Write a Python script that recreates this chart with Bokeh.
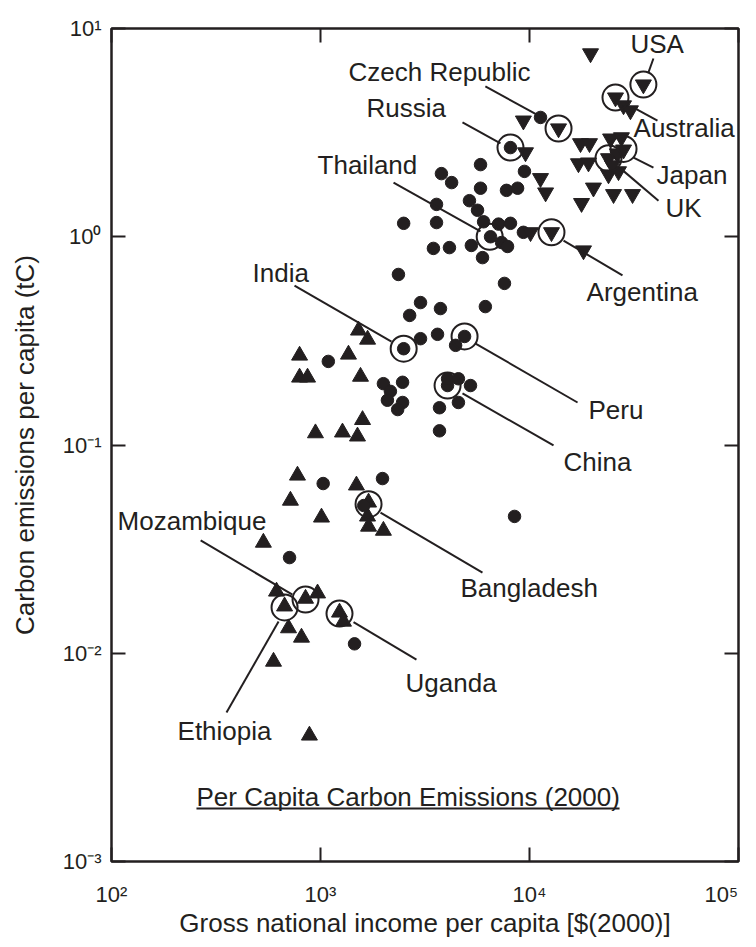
from bokeh.plotting import figure
from bokeh.models import FixedTicker, LogAxis, ColumnDataSource, CustomJSTickFormatter
from bokeh.core.properties import value
from bokeh.embed import file_html
from bokeh.resources import INLINE

# ---------------- data ----------------
# low income countries (triangles)
low_gni = [1520, 1680, 794, 1361, 794, 867, 1554, 1589, 946, 1274, 1503, 776, 1486, 718,
           1698, 1011, 1679, 1698, 2000, 533, 616, 673, 848, 968, 1233, 1288, 703, 811, 596, 885]
low_co2 = [0.355, 0.321, 0.269, 0.272, 0.211, 0.211, 0.213, 0.132, 0.114, 0.115, 0.110, 0.0714,
           0.0640, 0.0541, 0.0530, 0.0449, 0.0454, 0.0406, 0.0388, 0.0340, 0.0198, 0.0168,
           0.0183, 0.0194, 0.0157, 0.0142, 0.0132, 0.0119, 0.00912, 0.00403]

# middle income countries (dots)
mid_gni = [3790, 4240, 5830, 5830, 5160, 3590, 5640, 2500, 3590, 6030, 7110, 8110, 7760, 8770,
           9460, 11290, 8110, 6510, 7350, 7850, 3470, 4140, 5270, 5960, 7590, 9350, 2360, 3010,
           2670, 3750, 6150, 3010, 3630, 2500, 4890, 4430, 1090, 2000, 2470, 2160, 2090, 2470,
           2340, 4055, 4055, 4570, 5220, 4570, 3710, 3710, 8480, 1030, 1980, 1610, 711, 1455]
mid_co2 = [2.01, 1.82, 2.22, 1.71, 1.49, 1.43, 1.34, 1.16, 1.17, 1.18, 1.15, 1.16, 1.67, 1.71,
           2.06, 3.74, 2.68, 1.00, 0.938, 0.898, 0.879, 0.887, 0.908, 0.794, 0.597, 1.05, 0.659,
           0.483, 0.419, 0.452, 0.462, 0.324, 0.340, 0.290, 0.332, 0.301, 0.252, 0.197, 0.200,
           0.181, 0.164, 0.160, 0.148, 0.193, 0.208, 0.208, 0.193, 0.160, 0.151, 0.117, 0.0454,
           0.0653, 0.0690, 0.0512, 0.0288, 0.0111]

# high income countries (inverted triangles)
high_gni = [19590, 35070, 25790, 28180, 30410, 9350, 13770, 9570, 11290, 11940, 17540, 19370,
            24430, 27540, 17150, 19150, 23880, 26360, 28180, 23880, 26660, 20230, 25240, 31120,
            17740, 10115, 12740, 18130, 24950]
high_co2 = [7.59, 5.38, 4.66, 4.27, 4.04, 3.61, 3.31, 2.54, 1.91, 1.63, 2.81, 2.81, 2.96, 3.00,
            2.25, 2.27, 2.38, 2.51, 2.62, 1.99, 2.06, 1.72, 1.60, 1.60, 1.45, 1.05, 1.05, 0.859, 2.20]

# highlighted countries
hl_country = ["USA", "Australia", "Czech Republic", "Russia", "Japan", "UK", "Thailand",
              "Argentina", "India", "Peru", "China", "Bangladesh", "Ethiopia", "Mozambique", "Uganda"]
hl_gni = [35070, 25790, 13770, 8110, 28180, 23880, 6450, 12740, 2500, 4890, 4055, 1698, 673, 848, 1233]
hl_co2 = [5.38, 4.66, 3.31, 2.68, 2.64, 2.38, 1.00, 1.05, 0.290, 0.332, 0.193, 0.0520, 0.0166, 0.0181, 0.0155]

# label anchors (left edge, vertical middle) and leader lines
label_x = [30410, 31470, 1361, 1660, 40550, 44770, 968, 18750, 473, 19150, 14550, 4677, 207, 106.9, 2553]
label_y = [8.38, 3.31, 6.15, 4.13, 1.99, 1.38, 2.20, 0.540, 0.673, 0.148, 0.0833, 0.0205, 0.00421, 0.0430, 0.00716]
lead_x0 = [39170, 40950, 6150, 4780, 39170, 41410, 2236, 27860, 751, 16980, 13030, 5957, 355, 267, 2878]
lead_y0 = [7.18, 3.61, 5.27, 3.54, 2.15, 1.49, 1.82, 0.652, 0.583, 0.160, 0.0995, 0.0244, 0.00519, 0.0348, 0.00933]
lead_x1 = [37070, 31470, 11940, 7265, 31470, 27230, 5830, 14550, 2186, 5520, 4780, 1937, 630, 734, 1439]
lead_y1 = [6.15, 4.17, 3.66, 2.81, 2.40, 2.13, 1.06, 0.959, 0.314, 0.307, 0.177, 0.0474, 0.0142, 0.0191, 0.0141]

chart_title = "Per Capita Carbon Emissions (2000)"
title_x0 = 255
title_x1 = 26970
title_y = 0.00205
underline_y = 0.001797

x_ticks = [1e2, 1e3, 1e4, 1e5]
y_ticks = [1e-3, 1e-2, 1e-1, 1e0, 1e1]
x_title = "Gross national income per capita [$(2000)]"
y_title = "Carbon emissions per capita (tC)"

# ---------------- figure ----------------
ink = "#231f20"
font = "Liberation Sans"

p = figure(width=756, height=940, x_axis_type="log", y_axis_type="log",
           x_range=(1e2, 1e5), y_range=(1e-3, 1e1),
           output_backend="svg", toolbar_location=None,
           min_border_left=111, min_border_right=18, min_border_top=28, min_border_bottom=79,
           background_fill_color="white", border_fill_color="white")
p.grid.visible = False
p.outline_line_color = ink
p.outline_line_width = 2.5

sup_code = r"""
const sup = {"-": "\u207b", "0": "\u2070", "1": "\u00b9", "2": "\u00b2", "3": "\u00b3",
             "4": "\u2074", "5": "\u2075", "6": "\u2076", "7": "\u2077", "8": "\u2078", "9": "\u2079"};
const e = Math.round(Math.log10(tick));
let s = "10" + String(e).split("").map(c => sup[c]).join("");
if (tick >= pad_at) { s = s + "\u00a0\u00a0\u00a0"; }
return s;
"""


def style_axis(ax, show_labels):
    ax.axis_line_color = None
    ax.major_tick_in = 14
    ax.major_tick_out = 0
    ax.minor_tick_in = 0
    ax.minor_tick_out = 0
    ax.major_tick_line_color = ink
    ax.major_tick_line_width = 2
    if show_labels:
        ax.major_label_text_font = font
        ax.major_label_text_font_size = "22px"
        ax.major_label_text_color = ink
    else:
        ax.major_label_text_font_size = "1px"
        ax.major_label_text_alpha = 0
        ax.major_label_standoff = 0


for ax in p.xaxis:
    ax.ticker = FixedTicker(ticks=x_ticks)
    ax.formatter = CustomJSTickFormatter(args=dict(pad_at=1e5), code=sup_code)
    style_axis(ax, True)
    ax.major_label_standoff = 20
for ax in p.yaxis:
    ax.ticker = FixedTicker(ticks=y_ticks)
    ax.formatter = CustomJSTickFormatter(args=dict(pad_at=1e9), code=sup_code)
    style_axis(ax, True)
    ax.major_label_standoff = 10

p.xaxis.axis_label = x_title
p.yaxis.axis_label = y_title
for ax in list(p.xaxis) + list(p.yaxis):
    ax.axis_label_text_font = font
    ax.axis_label_text_font_size = "26px"
    ax.axis_label_text_font_style = "normal"
    ax.axis_label_text_color = ink
p.xaxis.axis_label_standoff = -2
p.yaxis.axis_label_standoff = 20

top_axis = LogAxis(ticker=FixedTicker(ticks=x_ticks))
style_axis(top_axis, False)
p.add_layout(top_axis, "above")
right_axis = LogAxis(ticker=FixedTicker(ticks=y_ticks))
style_axis(right_axis, False)
p.add_layout(right_axis, "right")

# points
p.scatter(low_gni, low_co2, marker="triangle", size=16, fill_color=ink, line_color=ink)
p.scatter(mid_gni, mid_co2, marker="circle", size=12.5, fill_color=ink, line_color=ink)
p.scatter(high_gni, high_co2, marker="inverted_triangle", size=16, fill_color=ink, line_color=ink)

# highlight rings, leader lines, labels
src = ColumnDataSource(dict(country=hl_country, gni=hl_gni, co2=hl_co2,
                            lx=label_x, ly=label_y,
                            x0=lead_x0, y0=lead_y0, x1=lead_x1, y1=lead_y1))
p.scatter("gni", "co2", source=src, marker="circle", size=26, fill_color=None,
          line_color=ink, line_width=2)
p.segment("x0", "y0", "x1", "y1", source=src, line_color=ink, line_width=2)
p.text("lx", "ly", text="country", source=src, text_font=value(font),
       text_font_size=value("26px"), text_align="left", text_baseline="middle",
       text_color=ink)

# in-plot title, underlined
p.text(x=[title_x0], y=[title_y], text=[chart_title], text_font=value(font),
       text_font_size=value("26px"), text_align="left", text_baseline="middle",
       text_color=ink)
p.segment(x0=[title_x0], y0=[underline_y], x1=[title_x1], y1=[underline_y],
          line_color=ink, line_width=2)

with open("out.html", "w", encoding="utf-8") as f:
    f.write(file_html(p, INLINE, "Per Capita Carbon Emissions (2000)"))
